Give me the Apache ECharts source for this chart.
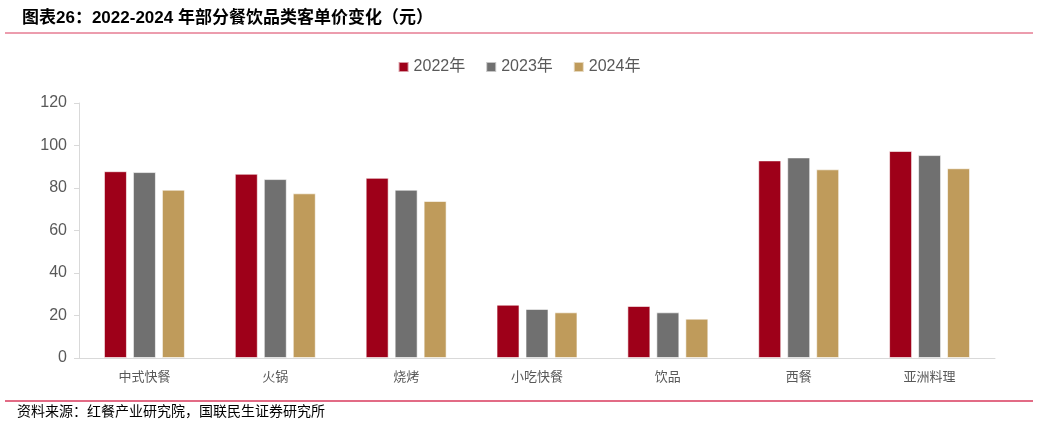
<!DOCTYPE html>
<html><head><meta charset="utf-8">
<script src="https://cdn.jsdelivr.net/npm/echarts@6/dist/echarts.min.js"></script>
<style>html,body{margin:0;padding:0;background:#fff}#c{width:1038px;height:424px}</style>
</head><body><div id="c"></div>
<script>
const categories = ['中式快餐','火锅','烧烤','小吃快餐','饮品','西餐','亚洲料理'];
const seriesNames = ['2022年','2023年','2024年'];
const values2022 = [87.9, 86.7, 84.8, 25.1, 24.5, 93.0, 97.4];
const values2023 = [87.5, 84.2, 79.2, 23.1, 21.5, 94.4, 95.5];
const values2024 = [79.2, 77.5, 73.9, 21.5, 18.5, 88.8, 89.3];
const yTicks = [0, 20, 40, 60, 80, 100, 120];
const colors = ['#9e0019', '#707070', '#bf9b5b'];
const allValues = [values2022, values2023, values2024];

const chart = echarts.init(document.getElementById('c'));
chart.setOption({
  animation: false,
  color: colors,
  title: {
    text: '图表26：2022-2024 年部分餐饮品类客单价变化（元）',
    left: 17, top: 5,
    textStyle: {fontFamily: '"Liberation Sans", Arial, "Noto Sans CJK SC", sans-serif', fontSize: 17, fontWeight: 'bold', color: '#000'}
  },
  legend: {
    data: seriesNames,
    top: 54, left: 'center',
    itemWidth: 10, itemHeight: 10, itemGap: 20,
    icon: 'rect',
    textStyle: {fontFamily: 'Arial, "Liberation Sans", "Noto Sans CJK SC", sans-serif', fontSize: 16, color: '#595959'}
  },
  grid: {left: 79, right: 43, top: 103, bottom: 66},
  xAxis: {
    type: 'category', data: categories,
    axisLine: {lineStyle: {color: '#d9d9d9', width: 1}},
    axisTick: {show: false},
    axisLabel: {margin: 12, fontFamily: '"Noto Sans CJK SC", sans-serif', fontSize: 13, color: '#595959'}
  },
  yAxis: {
    type: 'value', min: yTicks[0], max: yTicks[yTicks.length - 1], interval: 20,
    axisLine: {show: true, lineStyle: {color: '#d9d9d9'}},
    axisTick: {show: true, length: 5, lineStyle: {color: '#d9d9d9'}},
    splitLine: {show: false},
    axisLabel: {margin: 12, fontFamily: 'Arial, "Liberation Sans", sans-serif', fontSize: 16, color: '#595959'}
  },
  series: seriesNames.map((n, i) => ({
    name: n, type: 'bar', data: allValues[i],
    barWidth: 23, barGap: '26%',
    itemStyle: {color: colors[i], borderColor: 'rgba(255,255,255,0.6)', borderWidth: 1}
  })),
  graphic: [
    {type: 'line', shape: {x1: 5, y1: 33, x2: 1033, y2: 33}, style: {stroke: '#d93a5c', lineWidth: 1}},
    {type: 'line', shape: {x1: 5, y1: 401, x2: 1033, y2: 401}, style: {stroke: '#d93a5c', lineWidth: 1.5}},
    {type: 'text', left: 17, top: 404, style: {text: '资料来源：红餐产业研究院，国联民生证券研究所', font: '14px "Noto Sans CJK SC", sans-serif', fill: '#000'}}
  ]
});
</script></body></html>
